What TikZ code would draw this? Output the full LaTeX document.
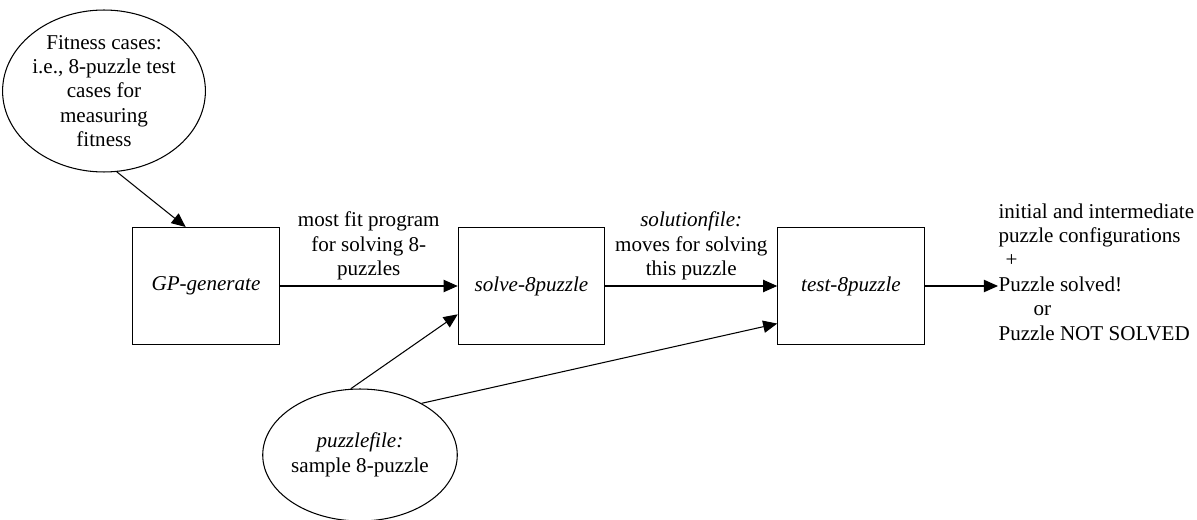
\documentclass[tikz,border=0pt]{standalone}
\usepackage{fontspec}
\setmainfont{Liberation Serif}
\usetikzlibrary{arrows.meta,positioning,shapes.geometric}

\begin{document}
\begin{tikzpicture}[x=0.02cm,y=-0.02cm,line width=0.6pt,
        font=\fontsize{12}{13.9}\selectfont,
        procbox/.style={draw,minimum width=2.93cm,minimum height=2.34cm,
                     inner sep=0pt},
        casefile/.style={draw,ellipse,inner sep=0pt,align=center},
        flow/.style={-{Triangle[length=8pt,width=7pt]}},
        flowlabel/.style={align=center,above,inner sep=3pt}]
        \useasboundingbox (0,0) rectangle (1197,520);
        \node[casefile,minimum width=3.76cm,minimum height=3.24cm] (fitness)
              at (104,91) {Fitness cases:\\ i.e., 8-puzzle test\\ cases for\\
              measuring\\ fitness};
        \node[procbox] (gpgen) at (206,286) {\textit{GP-generate}};
        \node[procbox,right=3.56cm of gpgen] (solve) {\textit{solve-8puzzle}};
        \node[procbox,right=3.44cm of solve] (test) {\textit{test-8puzzle}};
        \node[casefile,minimum width=3.2cm,minimum height=2.64cm] (puzzle)
              at (360,455) {\textit{puzzlefile:}\\ sample 8-puzzle};
        \node[align=left,anchor=west,inner sep=0pt] (result) at (998,272)
              {initial and intermediate\\ puzzle configurations\\
              \hspace*{4pt}+\\ Puzzle solved!\\ \hspace*{20pt}or\\
              Puzzle NOT SOLVED};
        \draw[flow] (fitness.-81) -- (gpgen.109);
        \draw[flow] (gpgen) -- node[flowlabel]
              {most fit program\\ for solving 8-\\ puzzles} (solve);
        \draw[flow] (solve) -- node[flowlabel]
              {\textit{solutionfile:}\\ moves for solving\\ this puzzle} (test);
        \draw[flow] (test.east) -- (test.east -| result.west);
        \draw[flow] (puzzle.98) -- (solve.201);
        \draw[flow] (puzzle.40) -- (test.207);
      \end{tikzpicture}
\end{document}
